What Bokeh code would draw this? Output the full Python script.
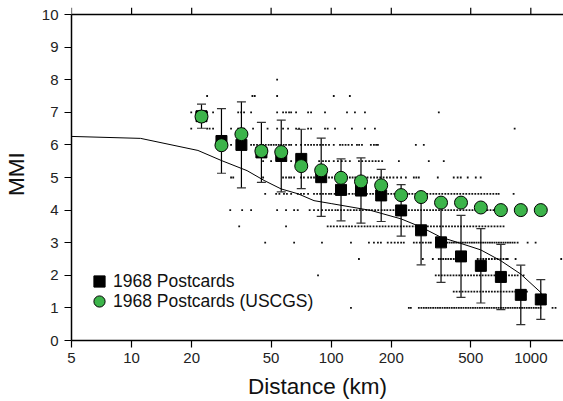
from bokeh.plotting import figure
from bokeh.models import (FixedTicker, NumeralTickFormatter, Legend,
                          LegendItem, Range1d, Span)
from bokeh.embed import file_html
from bokeh.resources import INLINE

# ---------------- data ----------------
bin_km = [22.4, 28.2, 35.5, 44.7, 56.2, 70.8, 89.1, 112, 141, 178, 224, 282,
          355, 447, 562, 708, 891, 1122]
postcards_mean = [6.88, 6.12, 6.00, 5.77, 5.66, 5.57, 5.01, 4.62, 4.60, 4.45,
                  3.99, 3.38, 3.01, 2.58, 2.29, 1.95, 1.40, 1.26]
postcards_std = [0.37, 0.99, 1.32, 0.92, 1.10, 0.91, 1.20, 0.95, 1.00, 0.80,
                 0.79, 1.06, 1.23, 1.26, 1.14, 1.00, 0.91, 0.61]
uscgs_mean = [6.87, 5.99, 6.33, 5.81, 5.78, 5.35, 5.22, 4.99, 4.88, 4.76,
              4.46, 4.40, 4.23, 4.23, 4.08, 4.00, 4.00, 4.00]

curve_km = [5, 11.1, 21.5, 28.2, 37.9, 46.1, 56.1, 68.2, 82, 100, 158, 224,
            282, 354, 445, 561, 706, 889, 1119, 1135]
curve_mmi = [6.26, 6.20, 5.83, 5.52, 5.21, 4.91, 4.65, 4.50, 4.29, 4.20, 3.99,
             3.73, 3.48, 3.17, 2.98, 2.78, 2.45, 2.04, 1.48, 1.40]

# individual postcard intensities (distance km) per MMI level
row_8_0 = [53.6]
row_7_5 = [23.9, 40.3, 41.4, 53.6, 103, 124]
row_7_0 = [19.9, 21.1, 23.9, 25.6, 34.2, 35.4, 36.6, 39.7, 53.6, 57.4, 59.4,
           61.5, 63.0, 66.7, 76.6, 79.3, 93.1, 120, 131.5, 147.6, 346]
row_6_5 = [19.9, 23.9, 24.6, 25.6, 31.5, 34.2, 35.4, 36.6, 40.6, 48.0, 53.6,
           57.4, 60.8, 66.7, 69.0, 76.6, 79.3, 93.1, 96.0, 104.5, 127, 147.6,
           165.6, 830]
row_6_0 = [31.5, 39.7, 41.0, 42.5, 44.2, 45.6, 47.0, 48.6, 50.0, 51.5, 53.0,
           54.6, 56.1, 57.8, 59.4, 61.5, 63.0, 66.7, 70.6, 74.0, 76.6, 79.3,
           82.0, 85.0, 88.0, 91.0, 94.0, 97.5, 103, 110.7, 114, 118, 122, 127,
           134.6, 138, 142.6, 158, 163.7, 168, 171.4, 265.5, 291]
row_5_5 = [45.6, 50.0, 56.1, 59.4, 63.0, 87.0, 91.0, 94.0, 97.5, 103, 108, 113,
           118, 124, 137.7, 143, 149, 155, 161, 167, 173, 180, 218.3, 308.3,
           366.4]
row_5_0 = [31.5, 32.3, 45.6, 57.4, 59.4, 61.5, 63.0, 65.2, 70.6, 73.0, 76.6,
           79.3, 82.0, 85.0, 88.0, 91.0, 94.0, 97.5, 101, 105, 110, 114, 120,
           124, 128, 132, 137, 142, 147, 152, 158, 164, 170, 176, 183, 190, 197,
           205, 214, 224, 236.6, 259.4, 267, 274.8, 342, 411, 430, 445.7, 483,
           530, 561]
row_4_5 = [46.7, 53.0, 55.0, 58.0, 60.0, 63.0, 68.0, 70.6, 73.0, 76.6, 82.0,
           85.0, 88.0, 91.0, 94.0, 97.5, 100, 104, 107, 111, 115, 119, 123, 128,
           132, 137, 141, 146, 151, 157, 162, 168, 174, 180, 186, 193, 200, 207,
           214, 222, 230, 238, 246, 255, 264, 273, 283, 293, 303, 314, 325, 336,
           348, 360, 373, 386, 400, 414, 428, 443, 459, 475, 492, 509, 527, 546,
           565, 585, 605, 627, 649, 672, 690, 820]
row_4_0 = [31.2, 35.8, 39.7, 53.6, 59.4, 65.2, 68.0, 78.0, 82.0, 86.0, 90.0,
           94.0, 97.5, 101, 105, 108, 112, 116, 121, 125, 130, 134, 139, 144,
           150, 155, 160, 166, 172, 179, 185, 191, 198, 205, 213, 221, 229, 236,
           245, 254, 263, 272, 282, 292, 302, 313, 324, 335, 347, 360, 373, 386,
           399, 413, 428, 443, 460, 476, 493, 510, 528, 547, 566, 586, 607, 628,
           650, 673, 697]
row_3_5 = [34.6, 59.4, 96.0, 99.5, 103, 107, 111, 115, 119, 123, 127, 132, 137,
           142, 147, 152, 157, 163, 169, 175, 181, 187, 194, 201, 208, 215, 223,
           231, 239, 247, 256, 265, 275, 284, 294, 305, 316, 327, 339, 351, 363,
           376, 389, 403, 417, 432, 447, 463, 480, 497, 515, 533, 552, 572, 592,
           613, 635, 658, 681, 705, 730]
row_3_0 = [46.7, 65.2, 89.9, 125.6, 154.5, 163.7, 171.4, 177.4, 192, 200, 208,
           216, 224, 231, 259.4, 268, 278, 288, 298, 308, 315.5, 354, 363, 372,
           382, 392, 402, 412, 423, 434, 445, 457, 469, 481, 494, 507, 520, 534,
           548, 562, 577, 592, 608, 624, 640, 657, 674, 692, 710, 729, 748, 768,
           788, 809, 830, 859, 964, 1057]
row_2_5 = [137.7, 287.7, 322.9, 346, 354, 364, 375, 386, 398, 411, 424, 437,
           445.7, 542, 560, 578, 597, 617, 638, 660, 682, 705, 729, 753, 766,
           839, 1420]
row_2_0 = [85.9, 334, 346, 358, 370, 383, 396, 410, 424, 438, 453, 469, 485,
           502, 519, 537, 555, 574, 594, 614, 635, 657, 680, 703, 727, 752, 778,
           805, 832, 859, 920]
row_1_5 = [411, 425, 440, 455, 471, 487, 504, 521, 539, 558, 577, 597, 617, 638,
           660, 683, 706, 731, 756, 782, 809, 836, 865, 894, 925, 956]
row_1_0 = [125.6, 244.9, 250.6, 274.8, 283, 291, 299, 307, 315, 324, 333, 342,
           351, 361, 371, 381, 391, 402, 413, 424, 436, 448, 460, 473, 486, 499,
           513, 527, 541, 556, 571, 587, 603, 619, 636, 654, 672, 690, 709, 728,
           748, 769, 790, 811, 833, 856, 880, 904, 928, 954, 980, 1006, 1034,
           1062, 1091, 1119, 1285, 1330]

x_ticks = [5, 10, 20, 50, 100, 200, 500, 1000]
y_ticks = [0, 1, 2, 3, 4, 5, 6, 7, 8, 9, 10]
y_max = 10

rows = [(8.0, row_8_0), (7.5, row_7_5), (7.0, row_7_0), (6.5, row_6_5),
        (6.0, row_6_0), (5.5, row_5_5), (5.0, row_5_0), (4.5, row_4_5),
        (4.0, row_4_0), (3.5, row_3_5), (3.0, row_3_0), (2.5, row_2_5),
        (2.0, row_2_0), (1.5, row_1_5), (1.0, row_1_0)]
dot_x, dot_y = [], []
for level, kms in rows:
    dot_x.extend(kms)
    dot_y.extend([level] * len(kms))

upper = [m + s for m, s in zip(postcards_mean, postcards_std)]
lower = [m - s for m, s in zip(postcards_mean, postcards_std)]

FONT = "Liberation Sans"
PX_PER_UNIT = 32.6
TICK_PX = 7
tick_top = y_max + TICK_PX / PX_PER_UNIT

# ---------------- figure ----------------
p = figure(width=563, height=401, x_axis_type="log",
           x_range=Range1d(5, 1458), y_range=Range1d(0, tick_top),
           output_backend="svg", toolbar_location=None,
           min_border_left=70, min_border_right=0,
           min_border_top=7, min_border_bottom=61)
p.outline_line_color = None
p.xgrid.visible = False
p.ygrid.visible = False
p.background_fill_color = "white"
p.border_fill_color = "white"

for ax in (p.xaxis[0], p.yaxis[0]):
    ax.axis_line_width = 1.5
    ax.axis_line_color = "black"
    ax.major_tick_line_color = "black"
    ax.major_tick_line_width = 1.2
    ax.major_tick_out = TICK_PX
    ax.major_tick_in = 0
    ax.minor_tick_line_color = None
    ax.major_label_text_font = FONT
    ax.major_label_text_font_size = "15px"
    ax.major_label_text_color = "#222222"
    ax.axis_label_text_font = FONT
    ax.axis_label_text_font_size = "22.5px"
    ax.axis_label_text_font_style = "normal"
    ax.axis_label_text_color = "#111111"

p.xaxis.ticker = FixedTicker(ticks=x_ticks)
p.xaxis.formatter = NumeralTickFormatter(format="0")
p.xaxis.axis_label = "Distance (km)"
p.xaxis.major_label_standoff = 5
p.xaxis.axis_label_standoff = 8

p.yaxis.ticker = FixedTicker(ticks=y_ticks)
p.yaxis.bounds = (0, y_max)
p.yaxis.axis_label = "MMI"
p.yaxis.major_label_standoff = 6
p.yaxis.axis_label_standoff = 10

# top border with outward ticks
p.add_layout(Span(location=y_max, dimension="width", line_color="black",
                  line_width=1.5))
p.segment(x0=x_ticks, y0=[y_max] * len(x_ticks), x1=x_ticks,
          y1=[tick_top] * len(x_ticks), line_color="black", line_width=1.2)

# scattered individual intensities
p.scatter(dot_x, dot_y, marker="square", size=1.8, fill_color="#111111",
          line_color=None)

# model curve
p.line(curve_km, curve_mmi, line_color="black", line_width=1)

# error bars
p.segment(x0=bin_km, y0=lower, x1=bin_km, y1=upper, line_color="black",
          line_width=1.2)
p.scatter(bin_km, upper, marker="dash", size=9, line_color="#333333",
          line_width=1.2)
p.scatter(bin_km, lower, marker="dash", size=9, line_color="#333333",
          line_width=1.2)

sq = p.scatter(bin_km, postcards_mean, marker="square", size=11,
               fill_color="black", line_color="black")
gr = p.scatter(bin_km, uscgs_mean, marker="circle", size=13,
               fill_color="#3cb44a", line_color="black", line_width=1)

common = dict(glyph_width=28, glyph_height=30, padding=0, margin=0,
              label_standoff=0, border_line_color=None,
              background_fill_alpha=0, label_text_font=FONT,
              label_text_font_size="17.5px", label_text_color="#111111")
leg1 = Legend(items=[LegendItem(label="1968 Postcards", renderers=[sq])],
              location=(14, 44), **common)
leg2 = Legend(items=[LegendItem(label="1968 Postcards (USCGS)", renderers=[gr])],
              location=(14, 24), **common)
p.add_layout(leg1)
p.add_layout(leg2)

open("out.html", "w").write(file_html(p, INLINE))
